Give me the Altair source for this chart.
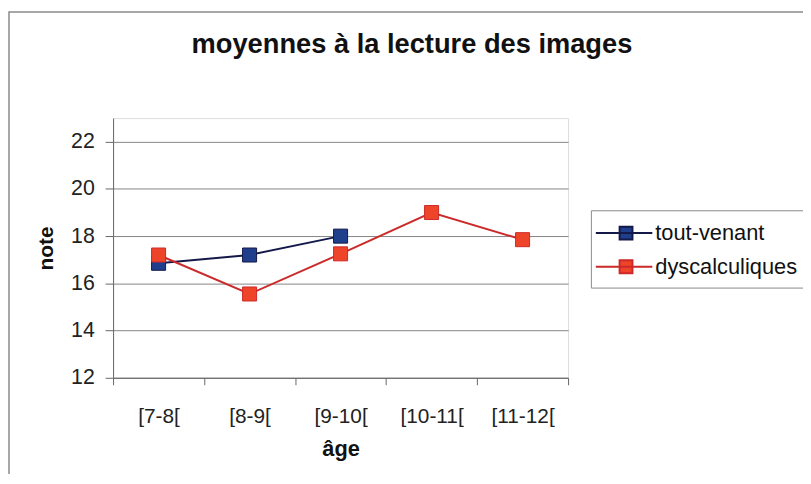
import altair as alt
import pandas as pd

# ---- data ----
categories = ["[7-8[", "[8-9[", "[9-10[", "[10-11[", "[11-12["]
series_names = ["tout-venant", "dyscalculiques"]
tout_venant = [16.85, 17.2, 18.0]                      # only first three age groups
dyscalculiques = [17.2, 15.55, 17.25, 19.0, 17.85]
y_ticks = [12, 14, 16, 18, 20, 22]

rows = []
for cat, v in zip(categories, tout_venant):
    rows.append({"age": cat, "serie": series_names[0], "note": v})
for cat, v in zip(categories, dyscalculiques):
    rows.append({"age": cat, "serie": series_names[1], "note": v})
df = pd.DataFrame(rows)

FONT = "Liberation Sans"
W, H = 459, 262

line_colors = ["#14194a", "#cc2a2a"]
marker_colors = ["#1f3f8c", "#ee4429"]

legend = alt.Legend(
    title=None, orient="none", legendX=482, legendY=93,
    symbolType="M-1.5,0H3.25M0.5,-0.54H1.58V0.54H0.5Z",
    symbolSize=576, symbolStrokeWidth=2, labelOffset=29,
    padding=10, rowPadding=10, strokeColor="#8a8a8a", fillColor="white",
    labelFontSize=22, labelFont=FONT, labelColor="#111",
)

x_enc = alt.X(
    "age:N", sort=categories,
    scale=alt.Scale(type="band", paddingInner=0, paddingOuter=0),
    axis=alt.Axis(
        title="âge", labelAngle=0, tickBand="extent", tickSize=7,
        labelPadding=21, labelFontSize=21, labelFont=FONT, labelColor="#222",
        domainColor="#666", tickColor="#666", grid=False,
        titleFontSize=22, titleFont=FONT, titleFontWeight="bold", titleColor="#111",
        titleX=W / 2, titleY=78, titleBaseline="alphabetic",
    ),
)
y_enc = alt.Y(
    "note:Q",
    scale=alt.Scale(domain=[12, 23], nice=False, zero=False),
    axis=alt.Axis(
        title="note", values=y_ticks, tickSize=8, labelPadding=11,
        labelFontSize=21.5, labelFont=FONT, labelColor="#222",
        domainColor="#666", tickColor="#666", grid=True, gridColor="#858585",
        titleFontSize=21, titleFont=FONT, titleFontWeight="bold", titleColor="#111",
        titleX=-61, titleY=H / 2, titleAngle=270, titleBaseline="alphabetic",
    ),
)

stroke_scale = alt.Scale(domain=series_names, range=line_colors)
fill_scale = alt.Scale(domain=series_names, range=marker_colors)

# outer chart frame (decoration, like the spreadsheet chart-area border)
frame = alt.Chart(alt.Data(values=[{"a": 1}])).mark_rect(
    fill="transparent", stroke="#8a8a8a", strokeWidth=1.5, clip=False
).encode(
    x=alt.value(-105), x2=alt.value(W + 300),
    y=alt.value(-107), y2=alt.value(H + 200),
)

base = alt.Chart(df)

lines = base.mark_line(strokeWidth=2).encode(
    x=x_enc, y=y_enc,
    stroke=alt.Stroke("serie:N", scale=stroke_scale, legend=legend),
    detail="serie:N",
)

points = base.mark_point(shape="square", filled=True, size=200, strokeWidth=1, opacity=1).encode(
    x=x_enc, y=y_enc,
    fill=alt.Fill("serie:N", scale=fill_scale, legend=legend),
    stroke=alt.Stroke("serie:N", scale=stroke_scale, legend=legend),
)

chart = alt.layer(frame, lines, points).properties(
    width=W, height=H,
    title=alt.Title(
        "moyennes à la lecture des images", fontSize=27.5, font=FONT,
        fontWeight="bold", color="#111", anchor="middle", dx=72, offset=-47.75,
    ),
    autosize=alt.AutoSizeParams(type="none"),
    padding={"left": 106, "top": 109, "right": 237, "bottom": 95},
).configure_view(stroke=None).configure(background="white")

chart.save("out.html", embed_options={"renderer": "svg", "actions": False})
